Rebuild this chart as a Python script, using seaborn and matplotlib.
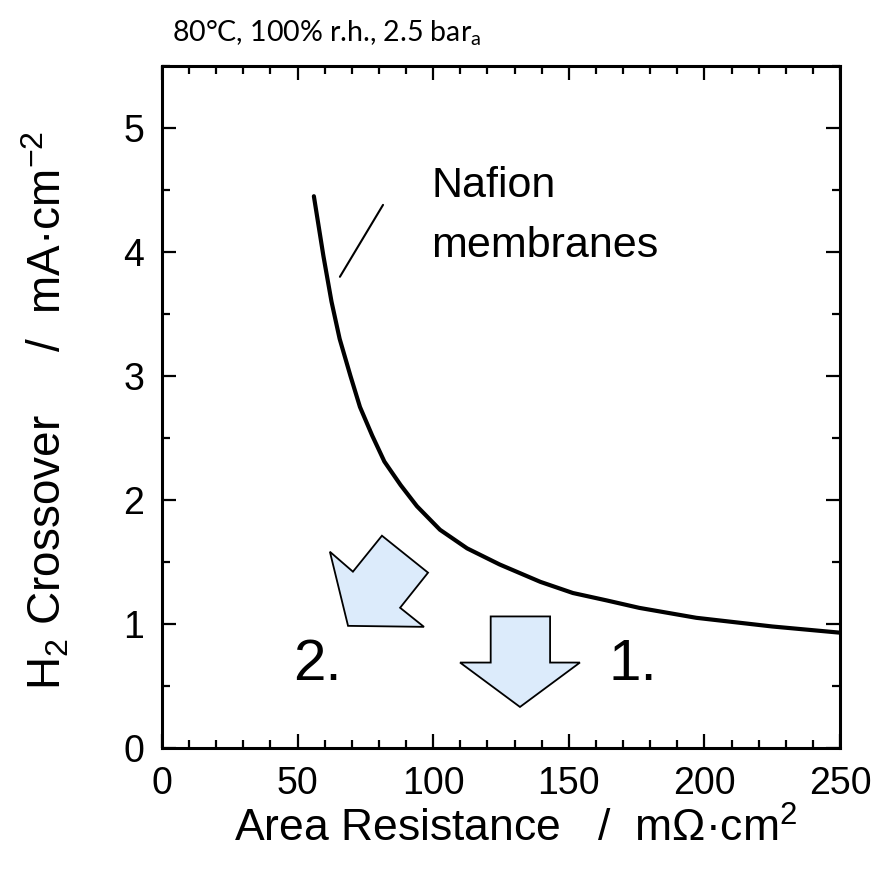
import matplotlib
matplotlib.use("Agg")
import matplotlib.pyplot as plt
from matplotlib.patches import Polygon
from matplotlib.ticker import MultipleLocator
import seaborn as sns
import pandas as pd

# ---- data ----
area_resistance = [56, 59.5, 62.5, 65.5, 69.5, 73, 77.5, 82, 88, 94, 102.5,
                   112.5, 124.5, 139.5, 151.5, 164, 176, 197, 225, 250]
h2_crossover = [4.45, 3.97, 3.60, 3.30, 3.00, 2.75, 2.52, 2.31, 2.12, 1.95,
                1.76, 1.61, 1.48, 1.34, 1.25, 1.19, 1.13, 1.05, 0.98, 0.93]
x_ticks = [0, 50, 100, 150, 200, 250]
y_ticks = [0, 1, 2, 3, 4, 5]
curve_label_1 = "Nafion"
curve_label_2 = "membranes"
title_text = "80°C, 100% r.h., 2.5 bar$_\\mathregular{a}$"

df = pd.DataFrame({"R": area_resistance, "X": h2_crossover})

sns.set_theme(style="ticks")
plt.rcParams["font.family"] = ["Liberation Sans", "DejaVu Sans"]
plt.rcParams["mathtext.fontset"] = "custom"
plt.rcParams["mathtext.rm"] = "Liberation Sans"
plt.rcParams["mathtext.it"] = "Liberation Sans:italic"
plt.rcParams["mathtext.bf"] = "Liberation Sans:bold"
for k in ["text.color", "axes.labelcolor", "xtick.color", "ytick.color",
          "axes.edgecolor"]:
    plt.rcParams[k] = "black"

fig = plt.figure(figsize=(8.75, 8.88), dpi=100)
ax = fig.add_axes([162 / 875, 1 - 748 / 888, (840 - 162) / 875, (748 - 66) / 888])

sns.lineplot(data=df, x="R", y="X", ax=ax, color="black", linewidth=3.0,
             sort=False, solid_joinstyle="round", solid_capstyle="round")

ax.set_xlim(0, 250)
ax.set_ylim(0, 5.5)
ax.set_xticks(x_ticks)
ax.set_yticks(y_ticks)
ax.xaxis.set_minor_locator(MultipleLocator(10))
ax.yaxis.set_minor_locator(MultipleLocator(0.5))
ax.tick_params(which="both", direction="in", top=True, right=True,
               colors="black", width=1.6)
ax.tick_params(which="major", length=10, labelsize=27, pad=13)
ax.tick_params(which="minor", length=6)
for s in ax.spines.values():
    s.set_linewidth(2.2)
    s.set_color("black")

ax.set_xlabel("Area Resistance   /  m\u03a9\u00b7cm$^\\mathregular{2}$",
              fontsize=32)
ax.xaxis.set_label_coords((516 - 162) / 678, -0.088)
ax.set_ylabel("H$_\\mathregular{2}$ Crossover     /  mA\u00b7cm$^\\mathregular{-2}$",
              fontsize=33)
ax.yaxis.set_label_coords((72 - 162) / 678, 0.495)

fig.text(172 / 875, 1 - 33 / 888, title_text, fontsize=20.5,
         family=["Lato", "DejaVu Sans"], va="center", ha="left")

# annotation for curve
ax.plot([65.6, 81.5], [3.80, 4.38], color="black", linewidth=1.5)
ax.text(99.2, 4.44, curve_label_1, fontsize=31, va="baseline", ha="left")
ax.text(99.2, 3.96, curve_label_2, fontsize=31, va="baseline", ha="left")

# arrows
arrow_fill = "#dcebfb"
arrow2 = [(61.9, 1.583), (70.4, 1.422), (81.1, 1.712), (98.1, 1.414),
          (87.8, 1.131), (96.6, 0.977), (68.6, 0.985)]
arrow1 = [(121.2, 1.061), (143.1, 1.061), (143.1, 0.689), (154.1, 0.689),
          (132.0, 0.331), (109.9, 0.689), (121.2, 0.689)]
for pts in (arrow1, arrow2):
    ax.add_patch(Polygon(pts, closed=True, facecolor=arrow_fill,
                         edgecolor="black", linewidth=1.3, zorder=3))

ax.text(48.5, 0.67, "2.", fontsize=42, va="center", ha="left")
ax.text(164.5, 0.67, "1.", fontsize=42, va="center", ha="left")

fig.savefig("out.png", dpi=100)
